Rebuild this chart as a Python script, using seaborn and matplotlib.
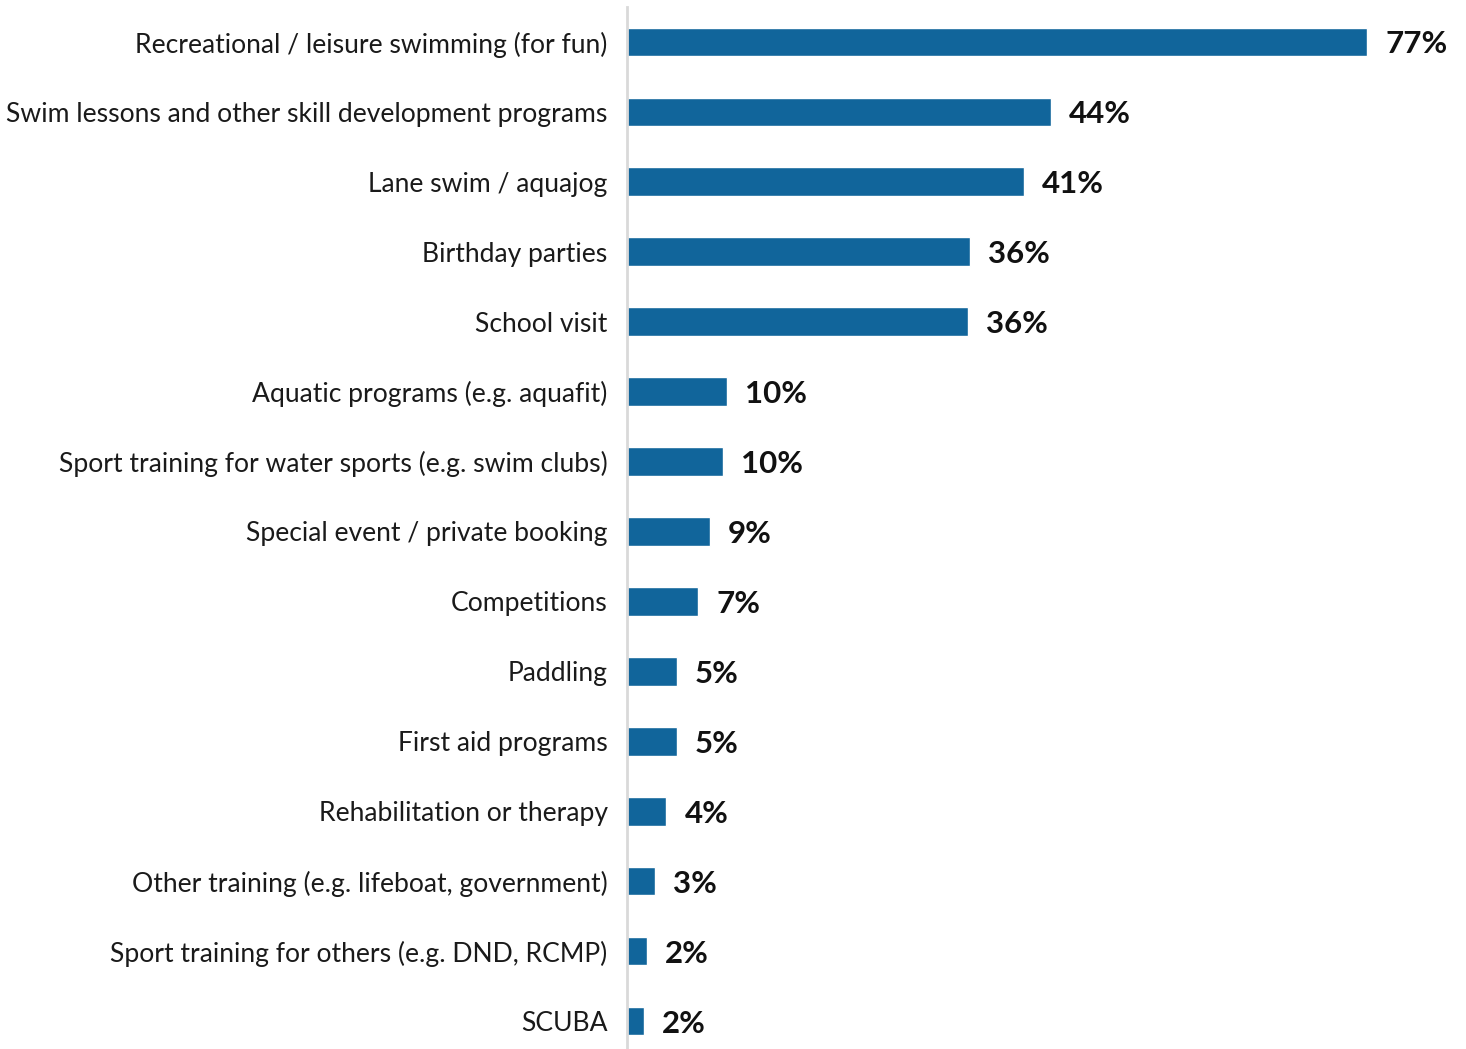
import matplotlib
matplotlib.use("Agg")
import matplotlib.pyplot as plt
import seaborn as sns
import pandas as pd

categories = [
    "Recreational / leisure swimming (for fun)",
    "Swim lessons and other skill development programs",
    "Lane swim / aquajog",
    "Birthday parties",
    "School visit",
    "Aquatic programs (e.g. aquafit)",
    "Sport training for water sports (e.g. swim clubs)",
    "Special event / private booking",
    "Competitions",
    "Paddling",
    "First aid programs",
    "Rehabilitation or therapy",
    "Other training (e.g. lifeboat, government)",
    "Sport training for others (e.g. DND, RCMP)",
    "SCUBA",
]
shares = [77.0, 44.1, 41.3, 35.7, 35.5, 10.4, 10.0, 8.6, 7.4, 5.2, 5.2, 4.1, 2.9, 2.1, 1.8]

df = pd.DataFrame({"activity": categories, "share": shares})

sns.set_theme(style="white")
plt.rcParams["font.family"] = ["Lato", "DejaVu Sans"]

fig = plt.figure(figsize=(14.66, 10.49), dpi=100)
ax = fig.add_axes([627 / 1466, 0, 1 - 627 / 1466, 1 - 7 / 1049])

sns.barplot(data=df, x="share", y="activity", color="#11659b", saturation=1,
            width=0.41, orient="h", ax=ax)

ax.set_xlim(0, 87.3)
ax.set_ylim(14.4, -0.5)
ax.set_xlabel("")
ax.set_ylabel("")
ax.set_xticks([])
for side in ["top", "right", "bottom"]:
    ax.spines[side].set_visible(False)
ax.spines["left"].set_color("#d9d9d9")
ax.spines["left"].set_linewidth(2)
ax.tick_params(axis="y", length=0, pad=14, labelsize=19.1, labelcolor="#1a1a1a")

for i, v in enumerate(shares):
    ax.annotate(f"{v:.0f}%", xy=(v, i), xytext=(13, 0), textcoords="offset points",
                ha="left", va="center_baseline", fontsize=22.5, fontweight="bold",
                color="#111111")

fig.savefig("out.png", dpi=100)
